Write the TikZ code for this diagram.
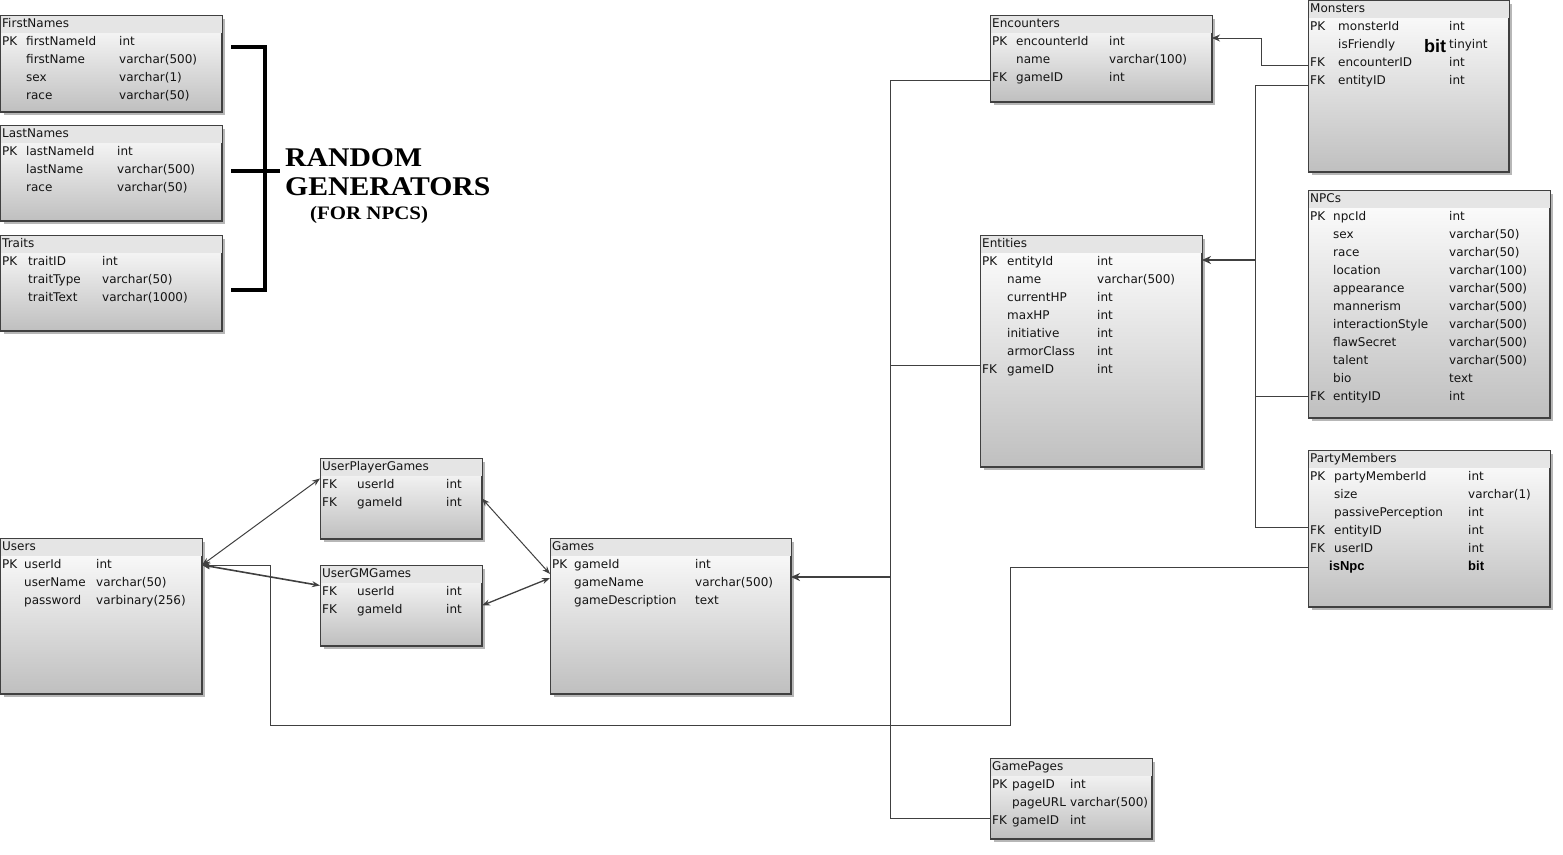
\documentclass[tikz,border=0pt]{standalone}
\usepackage{fontspec}
\setmainfont{DejaVu Sans}
\newfontfamily\arialfont{Liberation Sans}
\newfontfamily\titlefont{Liberation Serif}[FakeStretch=1.1]
\usetikzlibrary{arrows.meta, positioning, shadows, calc}

\newcommand{\dbtable}[6]{%
  \node[tblbody, minimum width=#4pt, minimum height=#5pt] (#1) at (#2,#3) {};
  \fill[tblhead] ([shift={(0.5pt,-0.5pt)}]#1.north west) rectangle ([shift={(-0.5pt,-18pt)}]#1.north east);
  \node[cell] (#1-t) at ([xshift=2pt, yshift=-9pt]#1.north west) {#6};
  \draw[tblline] (#1.north west) rectangle (#1.south east);
}
\newcommand{\dbrows}[5]{%
  \foreach \colkey/\colname/\coltype [count=\i] in {#5} {
    \node[cell] (#1-k\i) at ([xshift=#2pt, yshift={-(9+18*\i)}]#1.north west) {\colkey};
    \node[cell] (#1-n\i) at ([xshift=#3pt, yshift={-(9+18*\i)}]#1.north west) {\colname};
    \node[cell] (#1-t\i) at ([xshift=#4pt, yshift={-(9+18*\i)}]#1.north west) {\coltype};
  }
}

\begin{document}
\begin{tikzpicture}[x=1pt, y=-1pt,
    tblbody/.style={draw=black!75, line width=1pt, anchor=north west, inner sep=0,
                    top color=white, bottom color=gray!50,
                    drop shadow={shadow xshift=3pt, shadow yshift=-3pt, opacity=0.4, fill=black!70}},
    tblhead/.style={fill=gray!20},
    tblline/.style={draw=black!75, line width=1pt},
    cell/.style={anchor=west, inner sep=0, text height=9pt, text depth=2pt,
                 text=black!92, font=\fontsize{12}{14}\selectfont},
    boldcell/.style={font=\arialfont\bfseries\fontsize{13}{14}\selectfont},
    gentext/.style={anchor=base west, inner sep=0, text=black, font=\titlefont\bfseries\fontsize{27}{27}\selectfont},
    fk/.style={draw=black!75, line width=1pt},
    fkto/.style={fk, -{Stealth[length=8pt, width=7pt]}},
    fkbold/.style={fk, line width=2pt, -{Stealth[length=9pt, width=8pt]}},
    both/.style={fk, {Stealth[length=8pt, width=6pt]}-{Stealth[length=8pt, width=6pt]}},
    bracket/.style={line width=4pt, black}
  ]
  \useasboundingbox (0,0) rectangle (1563,854);

  % random generators
  \dbtable{fn}{0}{15}{221}{96}{FirstNames}
  \dbrows{fn}{2}{26}{119}{PK/firstNameId/int, /firstName/varchar(500), /sex/varchar(1), /race/varchar(50)}
  \dbtable{ln}{0}{125}{221}{95}{LastNames}
  \dbrows{ln}{2}{26}{117}{PK/lastNameId/int, /lastName/varchar(500), /race/varchar(50)}
  \dbtable{tr}{0}{235}{221}{95}{Traits}
  \dbrows{tr}{2}{28}{102}{PK/traitID/int, /traitType/varchar(50), /traitText/varchar(1000)}

  \node[gentext] (gen-a) at (285,166) {RANDOM};
  \node[gentext] (gen-b) at (285,195) {GENERATORS};
  \node[gentext, font=\titlefont\bfseries\fontsize{19}{19}\selectfont] (fornpc) at (310,219) {(FOR NPCS)};
  \coordinate (brk-a) at (231,47);
  \coordinate (brk-b) at (231,290);
  \coordinate (brk-c) at (231,171);
  \draw[bracket] (brk-a) -| (265,290) -- (brk-b);
  \draw[bracket] (brk-c) -- ([xshift=-5pt]gen-a.west |- brk-c);

  % game tables
  \dbtable{users}{0}{538}{201}{155}{Users}
  \dbrows{users}{2}{24}{96}{PK/userId/int, /userName/varchar(50), /password/varbinary(256)}
  \dbtable{upg}{320}{458}{161}{80}{UserPlayerGames}
  \dbrows{upg}{2}{37}{126}{FK/userId/int, FK/gameId/int}
  \dbtable{gm}{320}{565}{161}{80}{UserGMGames}
  \dbrows{gm}{2}{37}{126}{FK/userId/int, FK/gameId/int}
  \dbtable{games}{550}{538}{240}{155}{Games}
  \dbrows{games}{2}{24}{145}{PK/gameId/int, /gameName/varchar(500), /gameDescription/text}
  \dbtable{enc}{990}{15}{221}{86}{Encounters}
  \dbrows{enc}{2}{26}{119}{PK/encounterId/int, /name/varchar(100), FK/gameID/int}
  \dbtable{mon}{1308}{0}{200}{171}{Monsters}
  \dbrows{mon}{2}{30}{141}{PK/monsterId/int, /isFriendly/tinyint, FK/encounterID/int, FK/entityID/int}
  \node[anchor=west, inner sep=0, font=\arialfont\bfseries\fontsize{18}{18}\selectfont, text=black] (mon-bit) at ([xshift=116pt, yshift=-46pt]mon.north west) {bit};
  \dbtable{ent}{980}{235}{221}{231}{Entities}
  \dbrows{ent}{2}{27}{117}{PK/entityId/int, /name/varchar(500), /currentHP/int, /maxHP/int, /initiative/int, /armorClass/int, FK/gameID/int}
  \dbtable{npc}{1308}{190}{241}{227}{NPCs}
  \dbrows{npc}{2}{25}{141}{PK/npcId/int, /sex/varchar(50), /race/varchar(50), /location/varchar(100), /appearance/varchar(500), /mannerism/varchar(500), /interactionStyle/varchar(500), /flawSecret/varchar(500), /talent/varchar(500), /bio/text, FK/entityID/int}
  \dbtable{pm}{1308}{450}{241}{156}{PartyMembers}
  \dbrows{pm}{2}{26}{160}{PK/partyMemberId/int, /size/varchar(1), /passivePerception/int, FK/entityID/int, FK/userID/int}
  \node[cell, boldcell, text=black] (pm-n6) at ([xshift=21pt, yshift=-117pt]pm.north west) {isNpc};
  \node[cell, boldcell, text=black] (pm-t6) at ([xshift=160pt, yshift=-117pt]pm.north west) {bit};
  \dbtable{gp}{990}{758}{161}{80}{GamePages}
  \dbrows{gp}{2}{22}{80}{PK/pageID/int, /pageURL/varchar(500), FK/gameID/int}

  % game links
  \coordinate (bus) at (890,577);
  \draw[fk] ([yshift=-2pt]enc.west |- enc-k3) -- ([yshift=-2pt]bus |- enc-k3) -- ([yshift=3pt]bus |- gp-k3) -- ([yshift=3pt]gp.west |- gp-k3);
  \draw[fk] ([yshift=5pt]ent.west |- ent-k7) -- ([yshift=5pt]bus |- ent-k7);
  \draw[fkbold] (bus) -- (games.east |- bus);

  % entity links
  \coordinate (ebus) at (1255,260);
  \draw[fkto] ([yshift=-2pt]mon.west |- mon-k3) -- ++(-47,0) |- ([yshift=4pt]enc.east |- enc-k1);
  \draw[fk] ([yshift=-4pt]mon.west |- mon-k4) -| ([yshift=4pt]ebus |- pm-k4) -- ([yshift=4pt]pm.west |- pm-k4);
  \draw[fk] ([yshift=1pt]ebus |- npc-k11) -- ([yshift=1pt]npc.west |- npc-k11);
  \draw[fkbold] (ebus) -- (ent.east |- ebus);

  % user links
  \coordinate (loop-r) at (1010,725);
  \coordinate (loop-l) at (270,725);
  \draw[fkto] (pm.west |- pm-n6) -| (loop-r) -- (loop-l) |- (users.east |- users-k1);
  \draw[both] (users.east |- users-k1) -- ([yshift=20pt]upg.west);
  \draw[both, line width=1.6pt] (users.east |- users-k1) -- ([yshift=20pt]gm.west);
  \draw[both] (upg.east) -- ([yshift=42pt]games.west);
  \draw[both, line width=1.3pt] (gm.east) -- ([yshift=38pt]games.west);
\end{tikzpicture}
\end{document}
